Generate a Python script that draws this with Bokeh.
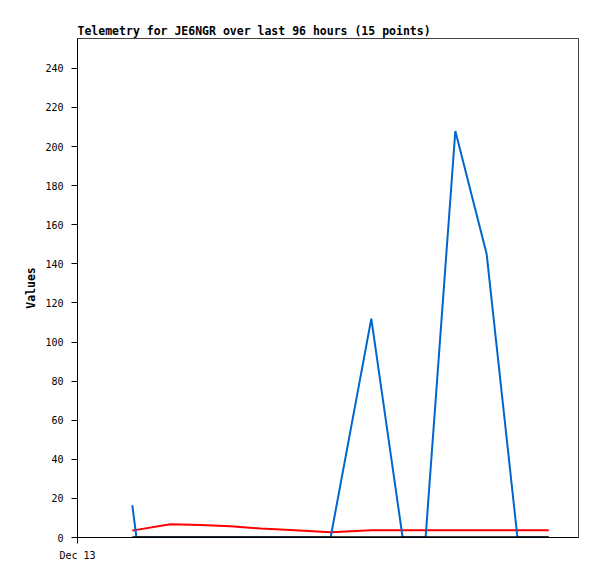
from bokeh.plotting import figure
from bokeh.models import FixedTicker, Range1d
from bokeh.embed import file_html
from bokeh.resources import INLINE

# hours since Dec 13 00:00
hours = [10.5, 11.3, 17.8, 23.6, 29.3, 35.1, 40.8, 48.5, 56.3, 62.3, 66.7, 72.4, 78.4, 84.3, 90.3]
series_blue = [16.5, 0, 0, 0, 0, 0, 0, 0, 112, 0, 0, 208, 145, 0, 0]
series_red = [3.6, 3.9, 6.8, 6.4, 5.7, 4.6, 3.8, 2.7, 3.7, 3.7, 3.7, 3.7, 3.7, 3.7, 3.7]
series_black = [0] * 15
y_ticks = list(range(0, 241, 20))
x_ticks = [0]
x_tick_labels = {0: "Dec 13"}

MONO = "DejaVu Sans Mono"

p = figure(width=589, height=563, output_backend="svg", toolbar_location=None,
           x_range=Range1d(0, 96), y_range=Range1d(0, 255.3),
           min_border_left=77, min_border_right=11, min_border_top=38, min_border_bottom=25)
p.title.text = "Telemetry for JE6NGR over last 96 hours (15 points)"
p.title.text_font = MONO
p.title.text_font_size = "11.5px"
p.title.text_font_style = "bold"
p.title.text_color = "black"
p.title.align = "left"
p.title.offset = 0
p.title.standoff = 2

p.xgrid.visible = False
p.ygrid.visible = False
p.outline_line_color = "#444444"
p.background_fill_color = "white"
p.border_fill_color = "white"

p.line(hours, series_red, line_color="#FF0000", line_width=2)
p.line(hours, series_blue, line_color="#0066CC", line_width=2)
p.line(hours, series_black, line_color="#000000", line_width=2.5)

for ax in (p.xaxis[0], p.yaxis[0]):
    ax.axis_line_color = "black"
    ax.major_tick_line_color = "black"
    ax.minor_tick_line_color = None
    ax.major_tick_out = 6
    ax.major_tick_in = 0
    ax.major_label_text_font = MONO
    ax.major_label_text_font_size = "10px"
    ax.major_label_text_color = "black"

p.yaxis[0].ticker = FixedTicker(ticks=y_ticks)
p.yaxis[0].major_label_standoff = 8
p.yaxis[0].axis_label = "Values"
p.yaxis[0].axis_label_text_font = MONO
p.yaxis[0].axis_label_text_font_size = "11.5px"
p.yaxis[0].axis_label_text_font_style = "bold"
p.yaxis[0].axis_label_text_color = "black"
p.yaxis[0].axis_label_standoff = 4

p.xaxis[0].ticker = FixedTicker(ticks=x_ticks)
p.xaxis[0].major_label_overrides = x_tick_labels
p.xaxis[0].major_label_standoff = 6

open("out.html", "w").write(file_html(p, INLINE))
